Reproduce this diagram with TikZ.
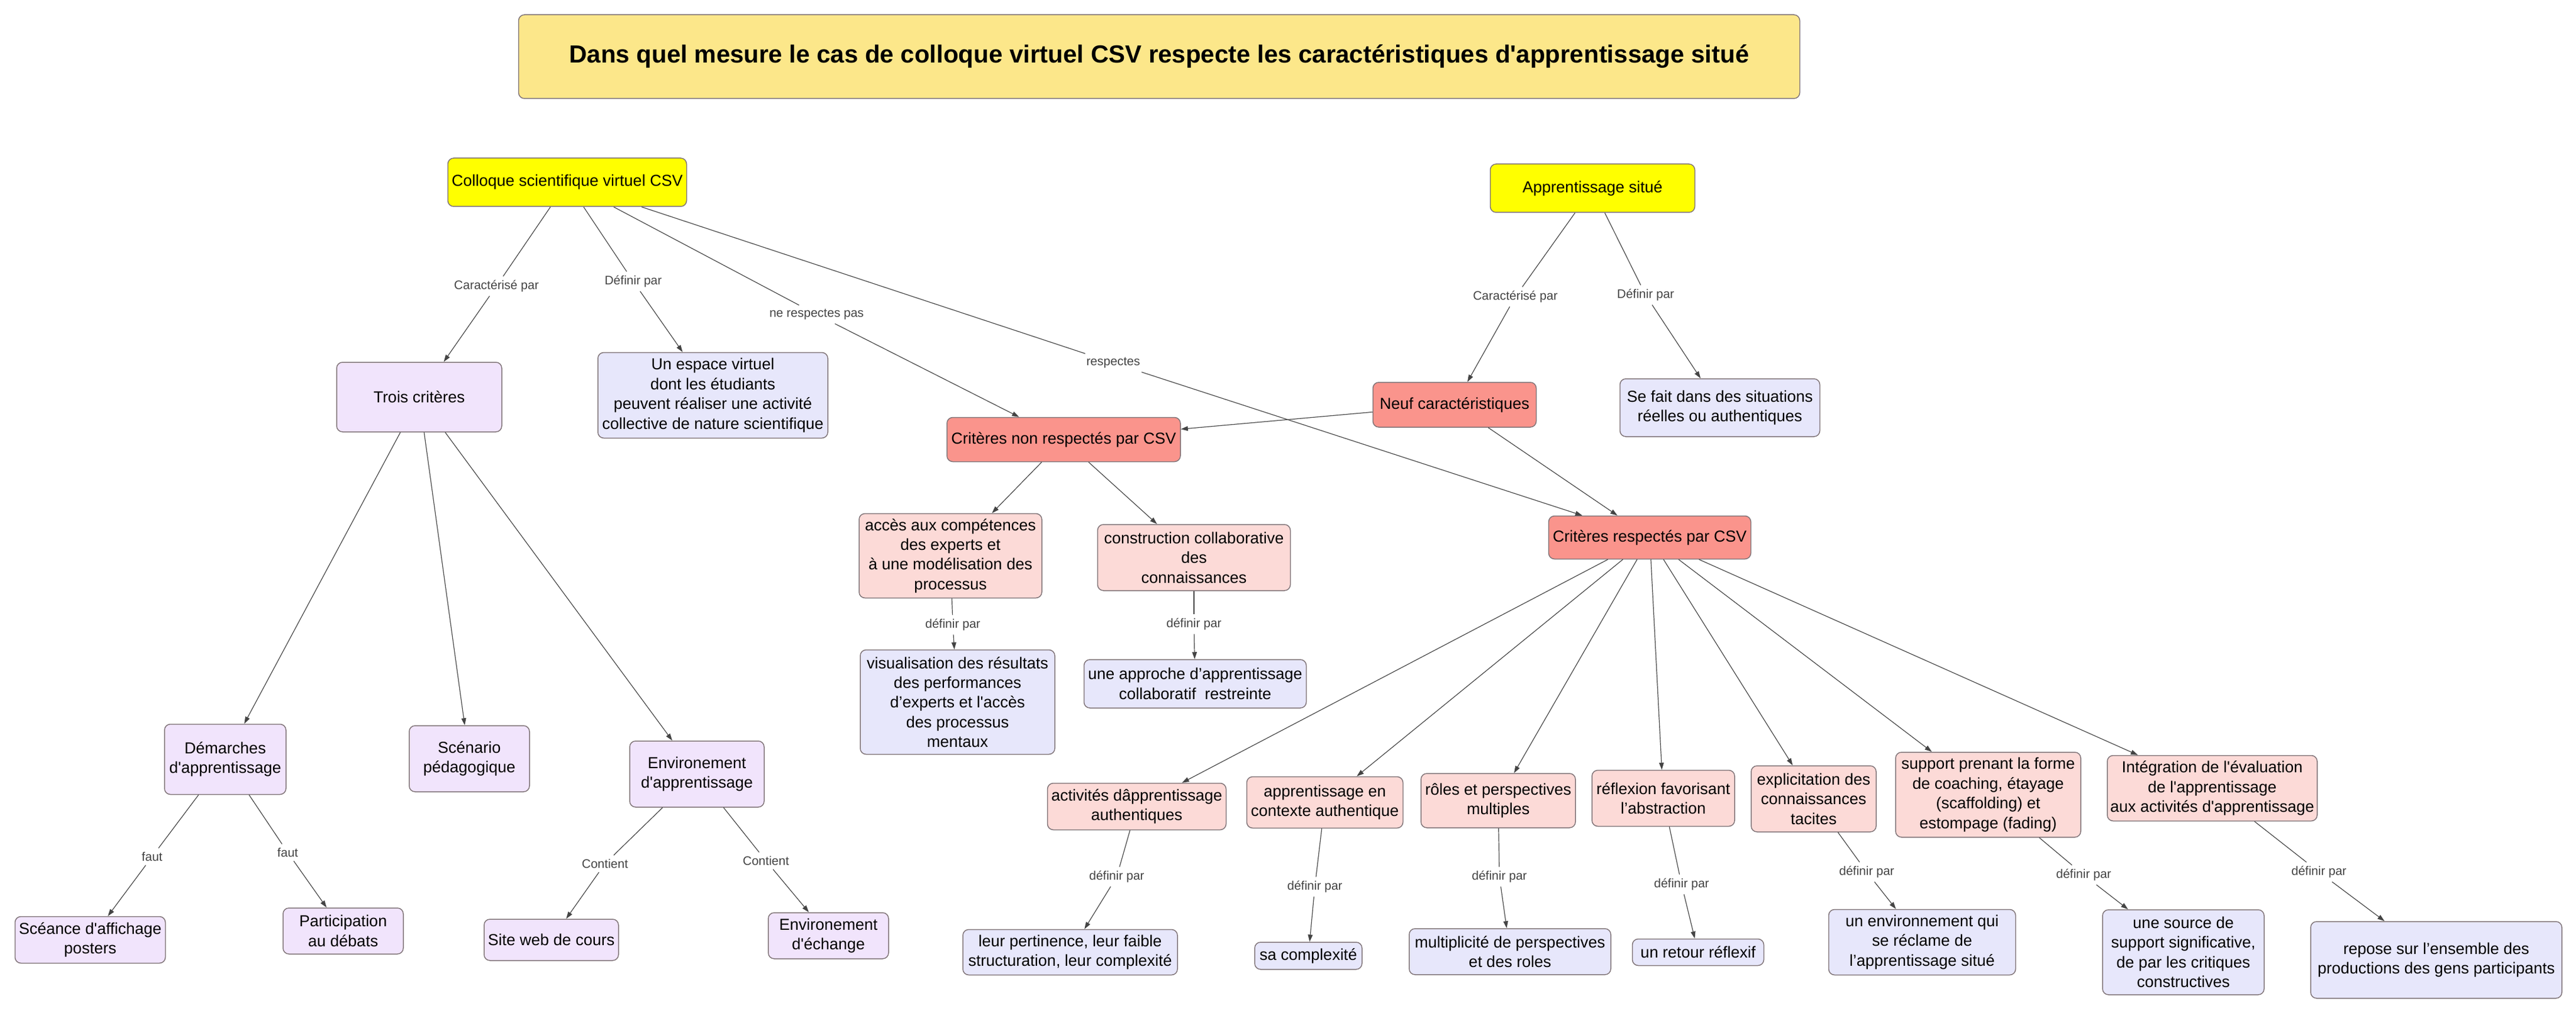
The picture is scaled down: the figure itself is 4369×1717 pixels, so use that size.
\documentclass[tikz,border=0pt]{standalone}
\usepackage{fontspec}
\setmainfont{Liberation Sans}[Ligatures=TeXOff]
\usetikzlibrary{arrows.meta}

\definecolor{titlefill}{RGB}{252,231,138}
\definecolor{yellowfill}{RGB}{255,255,0}
\definecolor{purplefill}{RGB}{241,228,252}
\definecolor{bluefill}{RGB}{231,231,251}
\definecolor{salmonfill}{RGB}{250,148,140}
\definecolor{pinkfill}{RGB}{252,218,215}
\definecolor{boxline}{RGB}{128,116,120}
\definecolor{linkgray}{RGB}{68,68,68}

\tikzset{every picture/.style={line width=0.75pt}}
\tikzset{
  concept/.style={draw=boxline, rounded corners=5pt, align=center, inner sep=2pt,
    font=\fontsize{13.5}{16.7}\selectfont},
  titlebox/.style={concept, fill=titlefill, font=\fontsize{21}{25}\selectfont\bfseries},
  yellowbox/.style={concept, fill=yellowfill},
  purplebox/.style={concept, fill=purplefill},
  bluebox/.style={concept, fill=bluefill},
  salmonbox/.style={concept, fill=salmonfill},
  pinkbox/.style={concept, fill=pinkfill},
  linklabel/.style={text=linkgray, inner sep=3pt, font=\fontsize{10.5}{12}\selectfont},
  link/.style={draw=linkgray, line width=0.6pt},
  linkarrow/.style={link, -{Triangle[length=6pt,width=4pt]}},
}

\begin{document}
\begin{tikzpicture}[x=0.5pt,y=0.5pt,yscale=-1,xscale=1]
	\useasboundingbox (0,0) rectangle (4369,1717);

	% title and the two roots
	\node [titlebox, minimum width=1086.5pt, minimum height=71pt] (title) at (1966,96) {Dans quel mesure le cas de colloque virtuel CSV respecte les caractéristiques d'apprentissage situé};
	\node [yellowbox, minimum width=202.5pt, minimum height=41pt] (csv) at (962,309) {Colloque scientifique virtuel CSV};
	\node [yellowbox, minimum width=173.5pt, minimum height=41pt] (appr) at (2701,319) {Apprentissage situé};

	% second level
	\node [purplebox, minimum width=140pt, minimum height=59pt] (trois) at (711,673) {Trois critères};
	\node [bluebox, minimum width=195pt, minimum height=72.5pt] (espace) at (1209,670) {Un espace virtuel\\ dont les étudiants\\ peuvent réaliser une activité\\ collective de nature scientifique};
	\node [salmonbox, minimum width=138.5pt, minimum height=38pt] (neuf) at (2467,686) {Neuf caractéristiques};
	\node [bluebox, minimum width=169.5pt, minimum height=49pt] (sefait) at (2917,691) {Se fait dans des situations\\ réelles ou authentiques};
	\node [salmonbox, minimum width=198pt, minimum height=37.5pt] (nonresp) at (1804,745) {Critères non respectés par CSV};
	\node [salmonbox, minimum width=171.5pt, minimum height=36.5pt] (resp) at (2798,911) {Critères respectés par CSV};

	% criteres non respectes
	\node [pinkbox, minimum width=155pt, minimum height=71.5pt] (acces) at (1612,942) {accès aux compétences\\ des experts et\\ à une modélisation des\\ processus};
	\node [pinkbox, minimum width=163.5pt, minimum height=56pt] (constr) at (2025,945) {construction collaborative\\ des\\ connaissances};
	\node [bluebox, minimum width=165pt, minimum height=88.5pt] (visu) at (1624,1190) {visualisation des résultats\\ des performances\\ d’experts et l'accès\\ des processus\\ mentaux};
	\node [bluebox, minimum width=188.5pt, minimum height=41pt] (approche) at (2027,1159) {une approche d’apprentissage\\ collaboratif~ restreinte};

	% trois criteres
	\node [purplebox, minimum width=103pt, minimum height=59.5pt] (demarches) at (382,1287) {Démarches\\ d'apprentissage};
	\node [purplebox, minimum width=102pt, minimum height=56pt] (scenario) at (796,1286) {Scénario\\ pédagogique};
	\node [purplebox, minimum width=114pt, minimum height=56pt] (envapp) at (1182,1312) {Environement\\ d'apprentissage};
	\node [purplebox, minimum width=127.5pt, minimum height=39.5pt] (seance) at (153,1593) {Scéance d'affichage\\ posters};
	\node [purplebox, minimum width=102pt, minimum height=39pt] (particip) at (582,1578) {Participation\\ au débats};
	\node [purplebox, minimum width=114pt, minimum height=35pt] (siteweb) at (935,1593) {Site web de cours};
	\node [purplebox, minimum width=102pt, minimum height=39pt] (envech) at (1405,1586) {Environement\\ d'échange};

	% criteres respectes
	\node [pinkbox, minimum width=151.5pt, minimum height=39.5pt] (activ) at (1928,1367) {activités dâpprentissage\\ authentiques};
	\node [pinkbox, minimum width=132.5pt, minimum height=43.5pt] (contexte) at (2247,1360) {apprentissage en\\ contexte authentique};
	\node [pinkbox, minimum width=131pt, minimum height=46pt] (roles) at (2541,1357) {rôles et perspectives\\ multiples};
	\node [pinkbox, minimum width=121pt, minimum height=47.5pt] (reflex) at (2821,1353) {réflexion favorisant\\ l’abstraction};
	\node [pinkbox, minimum width=106pt, minimum height=56pt] (explic) at (3076,1354) {explicitation des\\ connaissances\\ tacites};
	\node [pinkbox, minimum width=157pt, minimum height=72pt] (support) at (3372,1347) {support prenant la forme\\ de coaching, étayage\\ (scaffolding) et\\ estompage (fading)};
	\node [pinkbox, minimum width=178pt, minimum height=55.5pt] (integ) at (3752,1336) {Intégration de l'évaluation\\ de l'apprentissage\\ aux activités d'apprentissage};

	\node [bluebox, minimum width=182pt, minimum height=38.5pt] (pertin) at (1815,1614) {leur pertinence, leur faible\\ structuration, leur complexité};
	\node [bluebox, minimum width=91pt, minimum height=23pt] (complex) at (2219,1620) {sa complexité};
	\node [bluebox, minimum width=171pt, minimum height=39pt] (multi) at (2561,1613) {multiplicité de perspectives\\ et des roles};
	\node [bluebox, minimum width=111.5pt, minimum height=22.5pt] (retour) at (2880,1614) {un retour réflexif};
	\node [bluebox, minimum width=158.5pt, minimum height=55.5pt] (envir) at (3260,1597) {un environnement qui\\ se réclame de\\ l’apprentissage situé};
	\node [bluebox, minimum width=137pt, minimum height=72pt] (source) at (3703,1614) {une source de\\ support significative,\\ de par les critiques\\ constructives};
	\node [bluebox, minimum width=213pt, minimum height=65pt] (repose) at (4132,1627) {repose sur l’ensemble des\\ productions des gens participants};

	% link labels
	\node [linklabel] (l1) at (842,485) {Caractérisé par};
	\node [linklabel] (l2) at (1074,477) {Définir par};
	\node [linklabel] (l3) at (1385,533) {ne respectes pas};
	\node [linklabel] (l4) at (1888,615) {respectes};
	\node [linklabel] (l5) at (2570,503) {Caractérisé par};
	\node [linklabel] (l6) at (2791,500) {Définir par};
	\node [linklabel] (l7) at (1616,1059) {définir par};
	\node [linklabel] (l8) at (2025,1058) {définir par};
	\node [linklabel] (l9) at (258,1452) {faut};
	\node [linklabel] (l10) at (488,1445) {faut};
	\node [linklabel] (l11) at (1026,1464) {Contient};
	\node [linklabel] (l12) at (1299,1459) {Contient};
	\node [linklabel] (l13) at (1894,1486) {définir par};
	\node [linklabel] (l14) at (2230,1503) {définir par};
	\node [linklabel] (l15) at (2543,1486) {définir par};
	\node [linklabel] (l16) at (2852,1499) {définir par};
	\node [linklabel] (l17) at (3166,1478) {définir par};
	\node [linklabel] (l18) at (3534,1483) {définir par};
	\node [linklabel] (l19) at (3933,1478) {définir par};

	% links through a label
	\foreach \a/\l/\b in {csv/l1/trois, csv/l2/espace, csv/l3/nonresp, csv/l4/resp,
	    appr/l5/neuf, appr/l6/sefait, acces/l7/visu, constr/l8/approche,
	    demarches/l9/seance, demarches/l10/particip, envapp/l11/siteweb, envapp/l12/envech,
	    activ/l13/pertin, contexte/l14/complex, roles/l15/multi, reflex/l16/retour,
	    explic/l17/envir, support/l18/source, integ/l19/repose}
	  {\draw [link] (\a) -- (\l);
	   \draw [linkarrow] (\l) -- (\b);}

	% plain links
	\foreach \a/\b in {neuf/nonresp, neuf/resp, trois/demarches, trois/scenario, trois/envapp,
	    nonresp/acces, nonresp/constr, resp/activ, resp/contexte, resp/roles, resp/reflex,
	    resp/explic, resp/support, resp/integ}
	  {\draw [linkarrow] (\a) -- (\b);}
\end{tikzpicture}
\end{document}
